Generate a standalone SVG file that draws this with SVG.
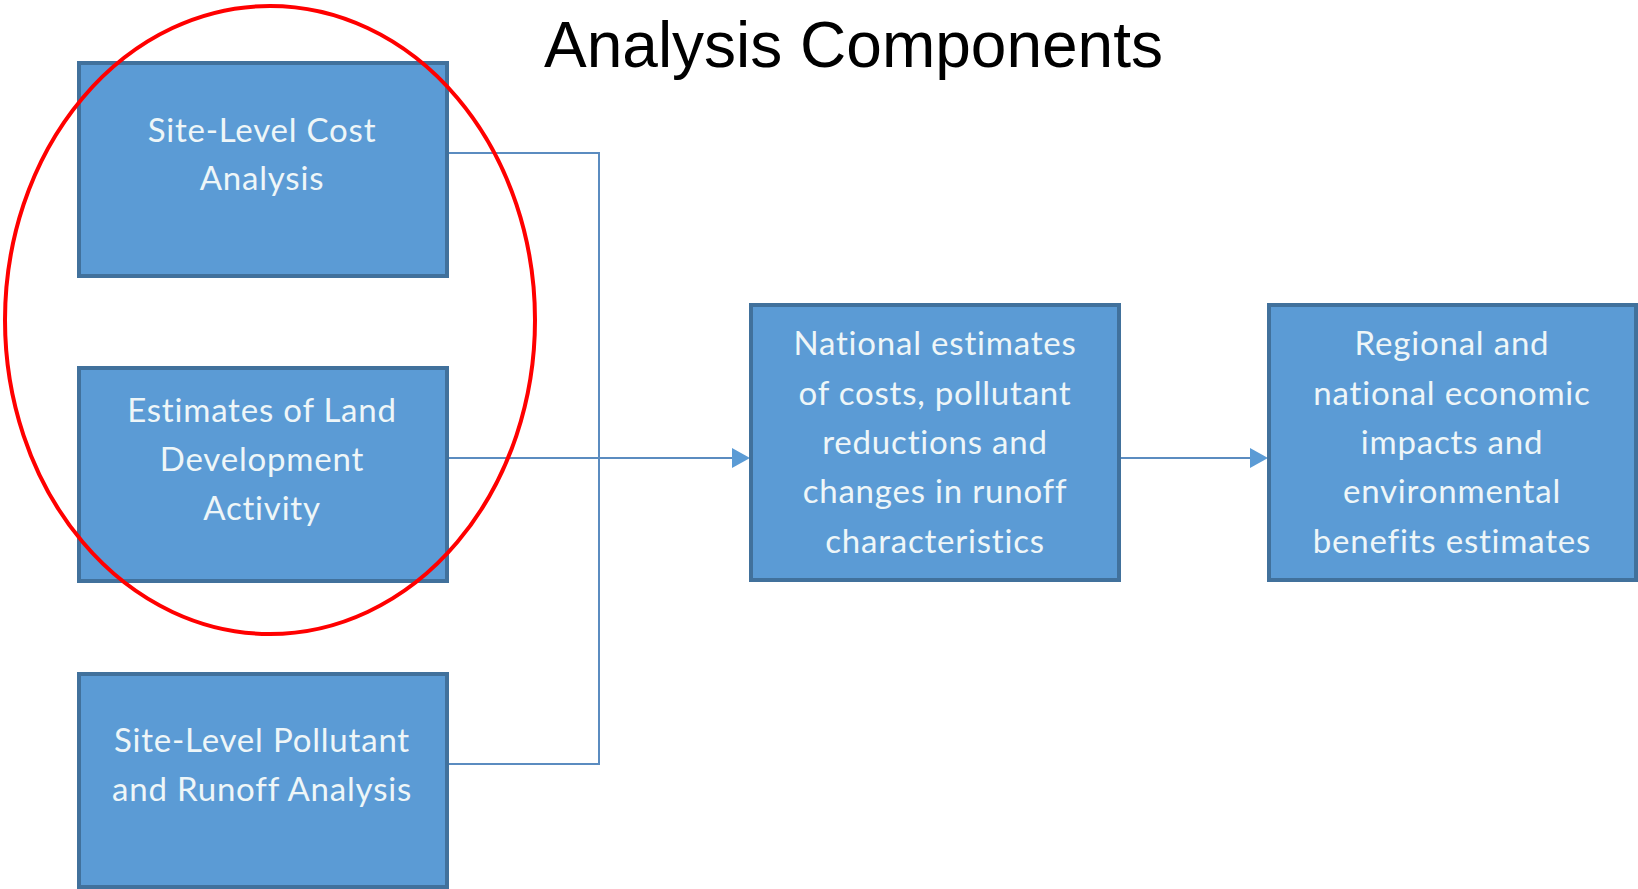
<svg xmlns="http://www.w3.org/2000/svg" width="1638" height="889" viewBox="0 0 1638 889">
<style>
.box{fill:#5b9bd5;stroke:#41719c;stroke-width:4}
.lbl{font-family:Lato,"Open Sans",sans-serif;font-size:33px;letter-spacing:0.8px;fill:#eef6f8;text-anchor:middle}
.conn{fill:none;stroke:#5b8cc0;stroke-width:2}
.title{font-family:"Liberation Sans",Arial,sans-serif;font-size:64px;fill:#000}
</style>
<rect width="1638" height="889" fill="#fff"/>
<text class="title" x="544" y="67">Analysis Components</text>
<g id="connectors">
<path class="conn" d="M447,153 H599 V764 H447"/>
<path class="conn" d="M447,458 H736"/>
<path d="M732,448 L750,458 L732,468 Z" fill="#5b9bd5"/>
<path class="conn" d="M1120,458 H1254"/>
<path d="M1250,448 L1268,458 L1250,468 Z" fill="#5b9bd5"/>
</g>
<g id="node-site-cost">
<rect class="box" x="79" y="63" width="368" height="213"/>
<text class="lbl" x="262" y="142">Site-Level Cost</text>
<text class="lbl" x="262" y="190">Analysis</text>
</g>
<g id="node-land-dev">
<rect class="box" x="79" y="368" width="368" height="213"/>
<text class="lbl" x="262" y="422">Estimates of Land</text>
<text class="lbl" x="262" y="471">Development</text>
<text class="lbl" x="262" y="520">Activity</text>
</g>
<g id="node-site-pollutant">
<rect class="box" x="79" y="674" width="368" height="213"/>
<text class="lbl" x="262" y="752">Site-Level Pollutant</text>
<text class="lbl" x="262" y="801">and Runoff Analysis</text>
</g>
<g id="node-national">
<rect class="box" x="751" y="305" width="368" height="275"/>
<text class="lbl" x="935" y="355">National estimates</text>
<text class="lbl" x="935" y="405">of costs, pollutant</text>
<text class="lbl" x="935" y="454">reductions and</text>
<text class="lbl" x="935" y="503">changes in runoff</text>
<text class="lbl" x="935" y="553">characteristics</text>
</g>
<g id="node-regional">
<rect class="box" x="1269" y="305" width="367" height="275"/>
<text class="lbl" x="1452" y="355">Regional and</text>
<text class="lbl" x="1452" y="405">national economic</text>
<text class="lbl" x="1452" y="454">impacts and</text>
<text class="lbl" x="1452" y="503">environmental</text>
<text class="lbl" x="1452" y="553">benefits estimates</text>
</g>
<ellipse id="highlight" cx="270" cy="320" rx="265" ry="314" fill="none" stroke="#ff0000" stroke-width="4"/>
</svg>
